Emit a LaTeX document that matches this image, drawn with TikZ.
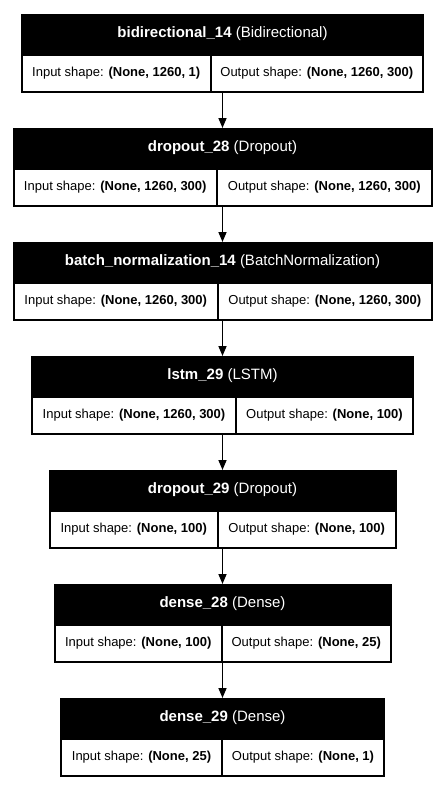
\documentclass[tikz,border=0pt]{standalone}
\usepackage{fontspec}
\setmainfont{Liberation Sans}
\usetikzlibrary{arrows.meta, positioning}

\begin{document}
\begin{tikzpicture}[
    node distance=35pt,
    every node/.style={inner sep=0pt, outer sep=0pt},
    head/.style={rectangle, fill=black, text=white, minimum height=40pt,
                 font=\fontsize{15pt}{18pt}\selectfont},
    row/.style={rectangle, fill=black, minimum height=39pt},
    cell/.style={rectangle, fill=white, minimum height=35pt,
                 font=\fontsize{13pt}{16pt}\selectfont},
    arrow/.style={-{Triangle[length=10pt, width=8pt]}, line width=1.6pt}
]
    \useasboundingbox[fill=white] (0,0) rectangle (445pt,-790pt);

    % bidirectional
    \node[head, minimum width=403pt] (bidir) at (222.5pt,-34pt)
      {\textbf{bidirectional\_14} (Bidirectional)};
    \node[row, minimum width=403pt, below=0pt of bidir] (bidir-row) {};
    \node[cell, minimum width=186.5pt, anchor=north west] (bidir-in)
      at ([shift={(2pt,-2pt)}]bidir-row.north west)
      {Input shape: \textbf{(None, 1260, 1)}};
    \node[cell, minimum width=210.5pt, right=2pt of bidir-in] (bidir-out)
      {Output shape: \textbf{(None, 1260, 300)}};

    % dropout 28
    \node[head, minimum width=420pt, below=of bidir-row] (drop28)
      {\textbf{dropout\_28} (Dropout)};
    \node[row, minimum width=420pt, below=0pt of drop28] (drop28-row) {};
    \node[cell, minimum width=201.5pt, anchor=north west] (drop28-in)
      at ([shift={(2pt,-2pt)}]drop28-row.north west)
      {Input shape: \textbf{(None, 1260, 300)}};
    \node[cell, minimum width=212.5pt, right=2pt of drop28-in] (drop28-out)
      {Output shape: \textbf{(None, 1260, 300)}};

    % batch normalization
    \node[head, minimum width=420pt, below=of drop28-row] (bnorm)
      {\textbf{batch\_normalization\_14} (BatchNormalization)};
    \node[row, minimum width=420pt, below=0pt of bnorm] (bnorm-row) {};
    \node[cell, minimum width=202.5pt, anchor=north west] (bnorm-in)
      at ([shift={(2pt,-2pt)}]bnorm-row.north west)
      {Input shape: \textbf{(None, 1260, 300)}};
    \node[cell, minimum width=211.5pt, right=2pt of bnorm-in] (bnorm-out)
      {Output shape: \textbf{(None, 1260, 300)}};

    % lstm
    \node[head, minimum width=383pt, below=of bnorm-row] (lstm)
      {\textbf{lstm\_29} (LSTM)};
    \node[row, minimum width=383pt, below=0pt of lstm] (lstm-row) {};
    \node[cell, minimum width=202pt, anchor=north west] (lstm-in)
      at ([shift={(2pt,-2pt)}]lstm-row.north west)
      {Input shape: \textbf{(None, 1260, 300)}};
    \node[cell, minimum width=175pt, right=2pt of lstm-in] (lstm-out)
      {Output shape: \textbf{(None, 100)}};

    % dropout 29
    \node[head, minimum width=348pt, below=of lstm-row] (drop29)
      {\textbf{dropout\_29} (Dropout)};
    \node[row, minimum width=348pt, below=0pt of drop29] (drop29-row) {};
    \node[cell, minimum width=166.5pt, anchor=north west] (drop29-in)
      at ([shift={(2pt,-2pt)}]drop29-row.north west)
      {Input shape: \textbf{(None, 100)}};
    \node[cell, minimum width=175.5pt, right=2pt of drop29-in] (drop29-out)
      {Output shape: \textbf{(None, 100)}};

    % dense 28
    \node[head, minimum width=338pt, below=of drop29-row] (dense28)
      {\textbf{dense\_28} (Dense)};
    \node[row, minimum width=338pt, below=0pt of dense28] (dense28-row) {};
    \node[cell, minimum width=165.5pt, anchor=north west] (dense28-in)
      at ([shift={(2pt,-2pt)}]dense28-row.north west)
      {Input shape: \textbf{(None, 100)}};
    \node[cell, minimum width=166.5pt, right=2pt of dense28-in] (dense28-out)
      {Output shape: \textbf{(None, 25)}};

    % dense 29
    \node[head, minimum width=325pt, below=of dense28-row] (dense29)
      {\textbf{dense\_29} (Dense)};
    \node[row, minimum width=325pt, below=0pt of dense29] (dense29-row) {};
    \node[cell, minimum width=159pt, anchor=north west] (dense29-in)
      at ([shift={(2pt,-2pt)}]dense29-row.north west)
      {Input shape: \textbf{(None, 25)}};
    \node[cell, minimum width=160pt, right=2pt of dense29-in] (dense29-out)
      {Output shape: \textbf{(None, 1)}};

    \draw[arrow] (bidir-row) -- (drop28);
    \draw[arrow] (drop28-row) -- (bnorm);
    \draw[arrow] (bnorm-row) -- (lstm);
    \draw[arrow] (lstm-row) -- (drop29);
    \draw[arrow] (drop29-row) -- (dense28);
    \draw[arrow] (dense28-row) -- (dense29);
\end{tikzpicture}
\end{document}
